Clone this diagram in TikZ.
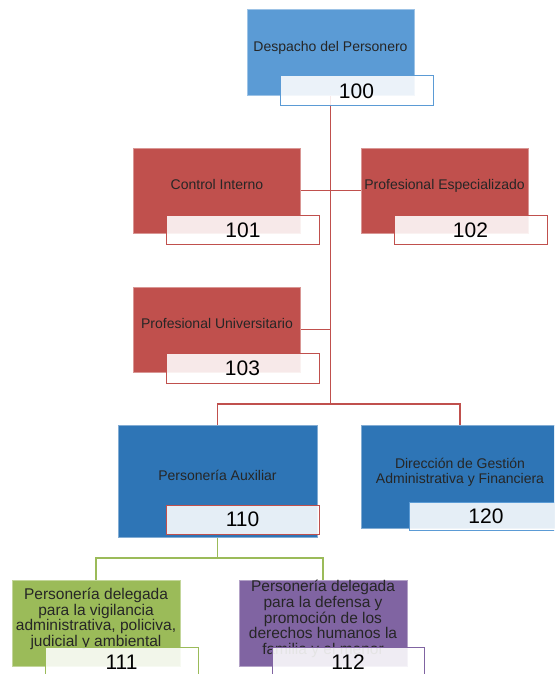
\documentclass[tikz,border=0pt]{standalone}
\usepackage{fontspec}
\setmainfont{Liberation Sans}
\usetikzlibrary{backgrounds}
\definecolor{azul}{HTML}{5B9BD5}
\definecolor{azulosc}{HTML}{2E75B6}
\definecolor{rojo}{HTML}{C0504D}
\definecolor{verde}{HTML}{9BBB59}
\definecolor{morado}{HTML}{8064A2}
\newcommand{\cajatxt}[1]{\raisebox{0pt}[0pt][0pt]{\begin{tabular}[c]{@{}c@{}}#1\end{tabular}}}
\tikzset{unidad/.style={rectangle, fill=#1, draw=#1!60!white, line width=0.5pt, inner sep=0pt,
           text=black!85, minimum width=167pt, minimum height=86pt, font=\fontsize{14}{15}\selectfont},
         codigo/.style={rectangle, draw=#1, line width=1pt, fill=white, fill opacity=0.88, text opacity=1,
           inner sep=0pt, minimum width=153pt, minimum height=29pt, font=\fontsize{21}{24}\selectfont},
         enlace/.style={draw=#1, line width=1.3pt}}

\begin{document}
\begin{tikzpicture}[x=1pt,y=-1pt]
  \useasboundingbox (0,0) rectangle (554,674);
  \clip (0,0) rectangle (554,674);
  % dependencias
  \node[unidad=azul] (despacho) at (330.5,52) {\cajatxt{Despacho del Personero}};
  \node[unidad=rojo, minimum height=85pt] (control) at (217,190.5) {\cajatxt{Control Interno}};
  \node[unidad=rojo, minimum height=85pt] (profesp) at (444.5,190.5) {\cajatxt{Profesional Especializado}};
  \node[unidad=rojo, minimum height=85pt] (profuniv) at (217,329.5) {\cajatxt{Profesional Universitario}};
  \node[unidad=azulosc, minimum width=199pt, minimum height=112pt] (auxiliar) at (217.5,481) {\cajatxt{Personería Auxiliar}};
  \node[unidad=azulosc, minimum width=198pt, minimum height=103pt] (direccion) at (460,476.5)
    {\cajatxt{Dirección de Gestión\\Administrativa y Financiera}};
  \node[unidad=verde, minimum width=168pt, font=\fontsize{15.5}{14.3}\selectfont] (vigilancia) at (96,623)
    {\cajatxt{Personería delegada\\para la vigilancia\\administrativa, policiva,\\judicial y ambiental}};
  \node[unidad=morado, minimum width=168pt, font=\fontsize{15.5}{14.3}\selectfont] (derechos) at (323,623)
    {\cajatxt{Personería delegada\\para la defensa y\\promoción de los\\derechos humanos la\\familia y el menor}};
  % codigos
  \node[codigo=azul, minimum height=30pt] (n100) at (356.5,91) {100};
  \node[codigo=rojo] (n101) at (243,230) {101};
  \node[codigo=rojo] (n102) at (470.5,230) {102};
  \node[codigo=rojo, minimum height=30pt] (n103) at (242.5,368) {103};
  \node[codigo=rojo] (n110) at (242.5,519.5) {110};
  \node[codigo=azul, minimum width=154pt, minimum height=28pt] (n120) at (486,516) {120};
  \node[codigo=verde, minimum height=30pt] (n111) at (121.5,662) {111};
  \node[codigo=morado, minimum width=152pt, minimum height=30pt] (n112) at (348,662) {112};
  % lineas
  \begin{scope}[on background layer]
    \coordinate (ramaA) at (330.5,404);
    \coordinate (ramaB) at (217.5,558);
    \draw[enlace=rojo] (despacho.south) -- (ramaA);
    \draw[enlace=rojo] (control.east) -- (profesp.west);
    \draw[enlace=rojo] (profuniv.east) -- (profuniv.east -| despacho.south);
    \draw[enlace=rojo] (auxiliar.north) |- (ramaA) -| (direccion.north);
    \draw[enlace=verde] (auxiliar.south) -- (ramaB);
    \draw[enlace=verde] (vigilancia.north) |- (ramaB) -| (derechos.north);
  \end{scope}
\end{tikzpicture}
\end{document}
